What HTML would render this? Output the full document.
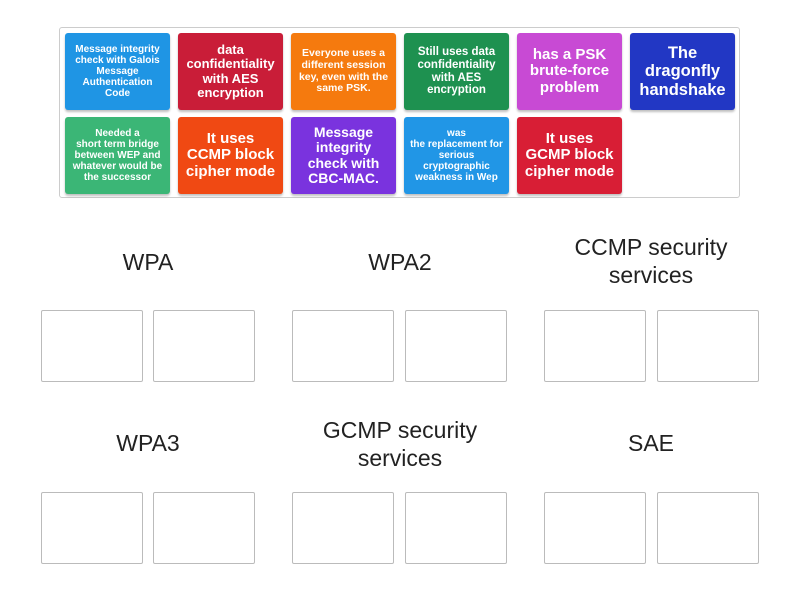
<!DOCTYPE html>
<html><head><meta charset="utf-8"><style>
body{margin:0;width:800px;height:600px;background:#fff;font-family:"Liberation Sans",sans-serif;position:relative;overflow:hidden}
.c{position:absolute;left:59px;top:27px;width:681px;height:171px;border:1px solid #ccc;border-radius:3px;box-sizing:border-box}
.t{position:absolute;width:105px;height:77px;border-radius:3px;color:#fff;font-weight:bold;display:flex;align-items:center;justify-content:center;text-align:center;box-shadow:0 2px 2px rgba(0,0,0,.25);line-height:1.1;box-sizing:border-box;padding:0 5px}
.h{position:absolute;width:200px;text-align:center;font-size:23px;color:#222;line-height:28px}
.b{position:absolute;width:102px;height:72px;border:1px solid #bbb;border-radius:2px;box-sizing:border-box}
</style></head><body>
<div class="c"></div>
<div class="t" style="left:65px;top:33px;background:#1f95e4;font-size:10px;padding:0 8px">Message integrity check with Galois Message Authentication Code</div>
<div class="t" style="left:178px;top:33px;background:#c91d38;font-size:13px">data confidentiality with AES encryption</div>
<div class="t" style="left:291px;top:33px;background:#f57a0e;font-size:10.5px">Everyone uses a different session key, even with the same PSK.</div>
<div class="t" style="left:404px;top:33px;background:#1e9150;font-size:11.5px">Still uses data confidentiality with AES encryption</div>
<div class="t" style="left:517px;top:33px;background:#c84ad4;font-size:15px;padding:0 8px">has a PSK brute-force problem</div>
<div class="t" style="left:630px;top:33px;background:#2237c4;font-size:16.5px;padding:0 8px">The dragonfly handshake</div>
<div class="t" style="left:65px;top:117px;background:#3bb676;font-size:10px;padding:0 4px">Needed a<br>short term bridge between WEP and whatever would be the successor</div>
<div class="t" style="left:178px;top:117px;background:#f04913;font-size:15px;padding:0 6px">It uses<br>CCMP block cipher mode</div>
<div class="t" style="left:291px;top:117px;background:#7a33de;font-size:14px;padding:0 10px">Message integrity check with CBC-MAC.</div>
<div class="t" style="left:404px;top:117px;background:#2196e6;font-size:10px;padding:0 6px">was<br>the replacement for serious cryptographic weakness in Wep</div>
<div class="t" style="left:517px;top:117px;background:#d81e35;font-size:15px;padding:0 6px">It uses<br>GCMP block cipher mode</div>

<div class="h" style="left:48px;top:248px">WPA</div>
<div class="h" style="left:300px;top:248px">WPA2</div>
<div class="h" style="left:551px;top:233px">CCMP security services</div>
<div class="h" style="left:48px;top:429px">WPA3</div>
<div class="h" style="left:300px;top:416px">GCMP security services</div>
<div class="h" style="left:551px;top:429px">SAE</div>

<div class="b" style="left:41px;top:310px"></div><div class="b" style="left:153px;top:310px"></div>
<div class="b" style="left:292px;top:310px"></div><div class="b" style="left:405px;top:310px"></div>
<div class="b" style="left:544px;top:310px"></div><div class="b" style="left:657px;top:310px"></div>
<div class="b" style="left:41px;top:492px"></div><div class="b" style="left:153px;top:492px"></div>
<div class="b" style="left:292px;top:492px"></div><div class="b" style="left:405px;top:492px"></div>
<div class="b" style="left:544px;top:492px"></div><div class="b" style="left:657px;top:492px"></div>
</body></html>
